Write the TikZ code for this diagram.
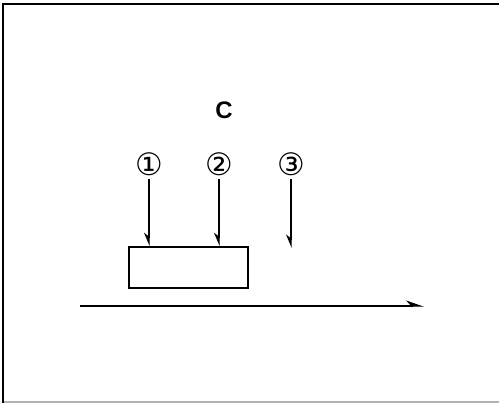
\documentclass[tikz,border=0pt]{standalone}
\usepackage{fontspec}
\setmainfont{Liberation Sans}
\newfontfamily\symfont{DejaVu Sans}
\usetikzlibrary{arrows.meta}
\begin{document}
\begin{tikzpicture}[x=1bp,y=-1bp,
  conn/.style={line width=1.3bp,-{Stealth[harpoon,swap,length=12bp,width=10bp]}},
  hconn/.style={line width=1.3bp,-{Stealth[harpoon,length=16bp,width=11bp]}},
  num/.style={inner sep=0pt,font=\symfont\fontsize{31}{31}\selectfont},
  boxst/.style={draw,line width=1.5bp,minimum width=119bp,minimum height=41bp,inner sep=0pt}]
\useasboundingbox (0,0) rectangle (499,403);
% frame
\draw[gray!60,line width=1.5bp] (3,402) -- (499,402);
\draw[line width=2bp] (3,403) -- (3,4) -- (499,4);
\node[font=\bfseries\fontsize{24}{24}\selectfont] (lab) at (224,110) {C};
\node[num] (c1) at (149,164) {①};
\node[num] (c2) at (219,164) {②};
\node[num] (c3) at (291,164) {③};
\node[boxst] (box) at (188.5,267.5) {};
\coordinate (e3) at (291,248);
\coordinate (h1) at (80,306);
\coordinate (h2) at (424,306);
\draw[conn] ([yshift=-3bp]c1.south) -- (c1.south |- box.north);
\draw[conn] ([yshift=-3bp]c2.south) -- (c2.south |- box.north);
\draw[conn] ([yshift=-3bp]c3.south) -- (e3);
\draw[hconn] (h1) -- (h2);
\end{tikzpicture}
\end{document}
